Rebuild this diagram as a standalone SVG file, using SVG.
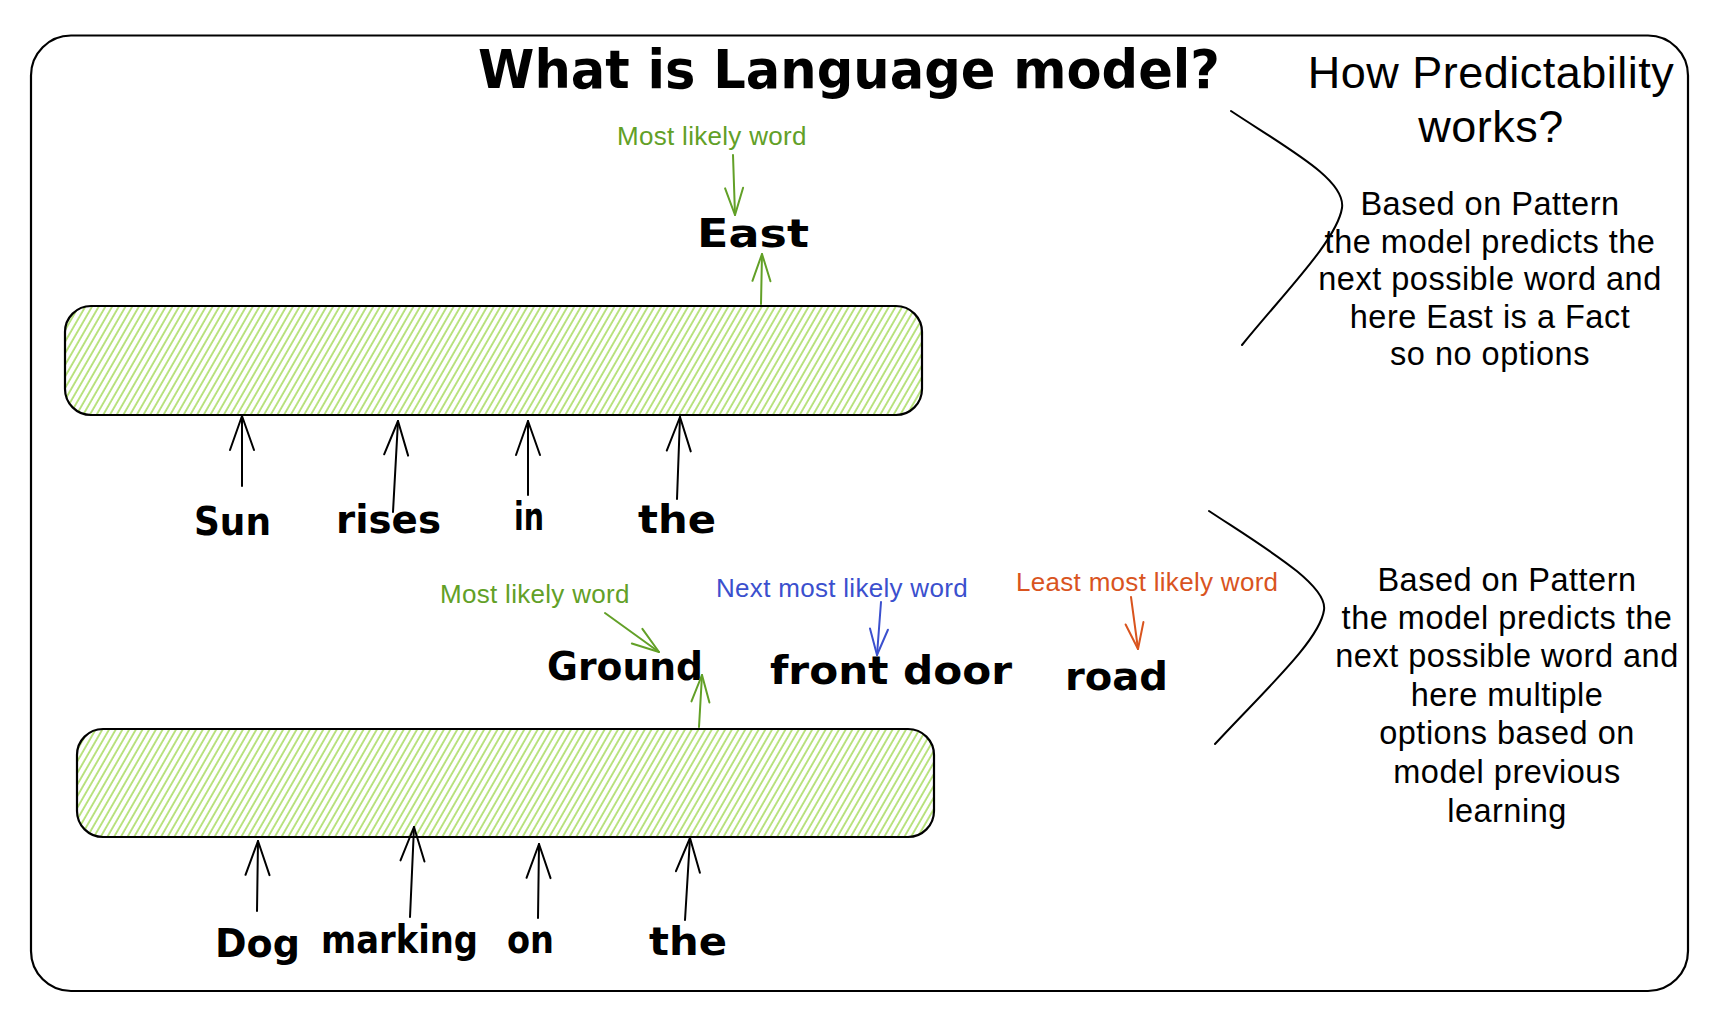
<svg xmlns="http://www.w3.org/2000/svg" width="1734" height="1020" viewBox="0 0 1734 1020">
  <defs>
    <pattern id="hatch" patternUnits="userSpaceOnUse" width="5.8" height="20" patternTransform="rotate(30)">
      <line x1="1" y1="0" x2="1" y2="20" stroke="#8ccf2e" stroke-width="1.2"/>
    </pattern>
    <marker id="ahK" markerUnits="userSpaceOnUse" orient="auto" refX="0" refY="0" markerWidth="80" markerHeight="80" overflow="visible">
      <path d="M-34,-12 L0,0 L-34,12" fill="none" stroke="#000" stroke-width="2" stroke-linecap="round" stroke-linejoin="round"/>
    </marker>
    <marker id="ahG" markerUnits="userSpaceOnUse" orient="auto" refX="0" refY="0" markerWidth="80" markerHeight="80" overflow="visible">
      <path d="M-27,-9 L0,0 L-27,9" fill="none" stroke="#62a027" stroke-width="2" stroke-linecap="round" stroke-linejoin="round"/>
    </marker>
    <marker id="ahB" markerUnits="userSpaceOnUse" orient="auto" refX="0" refY="0" markerWidth="80" markerHeight="80" overflow="visible">
      <path d="M-26,-9 L0,0 L-26,9" fill="none" stroke="#3b50ce" stroke-width="2" stroke-linecap="round" stroke-linejoin="round"/>
    </marker>
    <marker id="ahR" markerUnits="userSpaceOnUse" orient="auto" refX="0" refY="0" markerWidth="80" markerHeight="80" overflow="visible">
      <path d="M-26,-9 L0,0 L-26,9" fill="none" stroke="#d9541e" stroke-width="2" stroke-linecap="round" stroke-linejoin="round"/>
    </marker>
  </defs>
  <style>
    .hand { font-family: "DejaVu Sans", "Liberation Sans", sans-serif; font-weight: bold; fill: #000; }
    .helv { font-family: "Liberation Sans", Arial, sans-serif; fill: #000; }
    .body { font-size: 32.5px; letter-spacing: 0.5px; text-anchor: middle; }
    .lbl { font-size: 26px; letter-spacing: 0.3px; }
    .green { fill: #62a027; }
    .blue { fill: #3b50ce; }
    .red { fill: #d9541e; }
    .bar { fill: url(#hatch); stroke: #000; stroke-width: 2.2; }
    .k { stroke: #000; stroke-width: 2; fill: none; stroke-linecap: round; marker-end: url(#ahK); }
    .g { stroke: #62a027; stroke-width: 2; fill: none; stroke-linecap: round; marker-end: url(#ahG); }
    .b { stroke: #3b50ce; stroke-width: 2; fill: none; stroke-linecap: round; marker-end: url(#ahB); }
    .r { stroke: #d9541e; stroke-width: 2; fill: none; stroke-linecap: round; marker-end: url(#ahR); }
    .brace { stroke: #000; stroke-width: 2; fill: none; stroke-linecap: round; }
  </style>
  <rect width="1734" height="1020" fill="#fff"/>

  <g id="frame">
    <rect x="31" y="35.5" width="1657" height="955.5" rx="40" fill="none" stroke="#000" stroke-width="2.2"/>
  </g>

  <g id="title">
    <text class="hand" x="478" y="88" font-size="54" textLength="742" lengthAdjust="spacingAndGlyphs">What is Language model?</text>
  </g>

  <g id="how-title">
    <text class="helv" x="1491" y="88" font-size="45" letter-spacing="0.5" text-anchor="middle">How Predictability</text>
    <text class="helv" x="1491" y="142" font-size="45" letter-spacing="0.5" text-anchor="middle">works?</text>
  </g>

  <g id="explain-1">
    <text class="helv body" x="1490" y="215">Based on Pattern</text>
    <text class="helv body" x="1490" y="253">the model predicts the</text>
    <text class="helv body" x="1490" y="290">next possible word and</text>
    <text class="helv body" x="1490" y="328">here East is a Fact</text>
    <text class="helv body" x="1490" y="365">so no options</text>
  </g>

  <g id="explain-2">
    <text class="helv body" x="1507" y="591">Based on Pattern</text>
    <text class="helv body" x="1507" y="629">the model predicts the</text>
    <text class="helv body" x="1507" y="667">next possible word and</text>
    <text class="helv body" x="1507" y="706">here multiple</text>
    <text class="helv body" x="1507" y="744">options based on</text>
    <text class="helv body" x="1507" y="783">model previous</text>
    <text class="helv body" x="1507" y="822">learning</text>
  </g>

  <g id="braces">
    <path class="brace" d="M1231,111 C1290,150 1346,180 1342,208 C1337,240 1285,292 1242,345"/>
    <path class="brace" d="M1209,511 C1265,548 1328,585 1324,610 C1320,640 1265,690 1215,744"/>
  </g>

  <g id="model-bar-1">
    <rect class="bar" x="65" y="306" width="857" height="109" rx="26"/>
  </g>
  <g id="model-bar-2">
    <rect class="bar" x="77" y="729" width="857" height="108" rx="26"/>
  </g>

  <g id="label-most-likely-1">
    <text class="helv lbl green" x="617" y="145">Most likely word</text>
  </g>
  <g id="word-east">
    <text class="hand" x="697" y="247" font-size="39" textLength="112" lengthAdjust="spacingAndGlyphs">East</text>
  </g>

  <g id="word-sun"><text class="hand" x="194" y="535" font-size="39" textLength="77" lengthAdjust="spacingAndGlyphs">Sun</text></g>
  <g id="word-rises"><text class="hand" x="336" y="533" font-size="39" textLength="105" lengthAdjust="spacingAndGlyphs">rises</text></g>
  <g id="word-in"><text class="hand" x="514" y="530" font-size="39" textLength="30" lengthAdjust="spacingAndGlyphs">in</text></g>
  <g id="word-the-1"><text class="hand" x="638" y="533" font-size="39" textLength="78" lengthAdjust="spacingAndGlyphs">the</text></g>

  <g id="label-most-likely-2">
    <text class="helv lbl green" x="440" y="603">Most likely word</text>
  </g>
  <g id="label-next-most-likely">
    <text class="helv lbl blue" x="716" y="597">Next most likely word</text>
  </g>
  <g id="label-least-most-likely">
    <text class="helv lbl red" x="1016" y="591">Least most likely word</text>
  </g>

  <g id="word-ground"><text class="hand" x="547" y="680" font-size="39" textLength="156" lengthAdjust="spacingAndGlyphs">Ground</text></g>
  <g id="word-front-door"><text class="hand" x="770" y="684" font-size="39" textLength="242" lengthAdjust="spacingAndGlyphs">front door</text></g>
  <g id="word-road"><text class="hand" x="1065" y="690" font-size="39" textLength="103" lengthAdjust="spacingAndGlyphs">road</text></g>

  <g id="word-dog"><text class="hand" x="215" y="957" font-size="39" textLength="85" lengthAdjust="spacingAndGlyphs">Dog</text></g>
  <g id="word-marking"><text class="hand" x="321" y="953" font-size="39" textLength="157" lengthAdjust="spacingAndGlyphs">marking</text></g>
  <g id="word-on"><text class="hand" x="507" y="953" font-size="39" textLength="47" lengthAdjust="spacingAndGlyphs">on</text></g>
  <g id="word-the-2"><text class="hand" x="649" y="955" font-size="39" textLength="78" lengthAdjust="spacingAndGlyphs">the</text></g>

  <g id="connectors">
    <path class="k" d="M242,486 L242,416"/>
    <path class="k" d="M393,512 L398,421"/>
    <path class="k" d="M528,495 L528,421"/>
    <path class="k" d="M677,499 L680,417"/>
    <path class="k" d="M257,911 L258,841"/>
    <path class="k" d="M410,917 L414,827"/>
    <path class="k" d="M538,918 L539,844"/>
    <path class="k" d="M685,920 L690,838"/>
    <path class="g" d="M761,304 L762,254"/>
    <path class="g" d="M733,155 L735,215"/>
    <path class="g" d="M605,613 L659,652"/>
    <path class="g" d="M699,727 L702,675"/>
    <path class="b" d="M881,602 L877,655"/>
    <path class="r" d="M1131,597 L1138,649"/>
  </g>
</svg>
